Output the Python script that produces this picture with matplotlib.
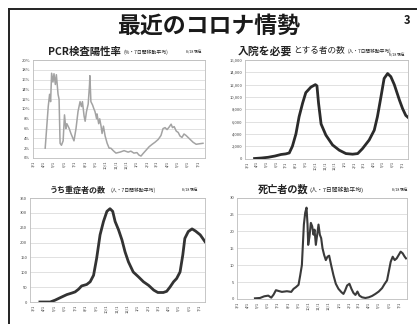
import matplotlib
matplotlib.use("Agg")
import matplotlib.pyplot as plt
from matplotlib.lines import Line2D
from matplotlib.ticker import FuncFormatter
import pandas as pd

plt.rcParams['font.family'] = ['Noto Sans CJK JP', 'DejaVu Sans']

W, H = 417, 324

# 日付軸: 2020/3/1 からの経過日数
start = pd.Timestamp('2020-03-01')
months = pd.date_range(start, periods=17, freq='MS')
tick_days = [(m - start).days for m in months]
tick_labels = [f"{m.month}/{m.day}" for m in months]

# PCR検査陽性率 (%)
pcr_day = [36, 45, 49, 52, 55, 59, 62, 66, 69, 74, 77, 80, 84, 89, 93, 97, 100,
           107, 112, 121, 127, 133, 139, 143, 146, 151, 154, 158, 163, 167, 168,
           171, 176, 180, 183, 188, 189, 194, 197, 201, 204, 208, 213, 219, 225,
           230, 237, 245, 257, 269, 281, 289, 298, 307, 313, 319, 325, 334, 343,
           352, 360, 370, 378, 384, 390, 396, 402, 408, 412, 417, 423, 429, 434,
           440, 446, 452, 458, 464, 473, 482, 491, 502]
pcr_rate = [2.0, 10.5, 13, 11.5, 17.3, 15.5, 17.2, 15, 17, 13, 12, 3, 2.6, 3.5,
            8.8, 6, 7, 6, 5, 3.5, 6, 9.5, 11.5, 10.5, 11.5, 8.5, 7.5, 9.5, 11,
            15, 16.8, 11.5, 10.8, 10, 9.5, 8, 9, 7, 8, 6.5, 5, 6.5, 4.5, 3, 2,
            2, 1.5, 1.0, 1.2, 1.5, 1.2, 1.4, 1.0, 1.1, 0.6, 0.4, 0.9, 1.6, 2.3,
            2.8, 3.2, 3.8, 4.6, 6.0, 6.2, 5.8, 6.3, 6.9, 6.2, 6.4, 5.5, 5.2,
            4.5, 4.2, 4.9, 4.6, 4.2, 3.8, 3.2, 2.8, 2.9, 3.0]

# 入院を必要とする者の数
hosp_day = [24, 46, 67, 88, 107, 122, 133, 143, 154, 164, 175, 185, 201, 215,
            220, 225, 233, 248, 269, 290, 311, 332, 348, 363, 384, 400, 410,
            421, 431, 442, 452, 463, 479, 489, 499, 510]
hosp_num = [0, 80, 200, 400, 650, 750, 900, 2000, 4000, 6800, 9000, 10700,
            11600, 12000, 11800, 9000, 5600, 3800, 2200, 1350, 800, 700, 800,
            1600, 3000, 4600, 6800, 10000, 13000, 13800, 13300, 12000, 9500,
            8100, 7000, 6500]

# うち重症者の数
severe_day = [20, 50, 64, 84, 99, 113, 123, 133, 142, 157, 167, 177, 186, 196,
              206, 216, 225, 233, 240, 250, 260, 269, 279, 293, 308, 323, 338,
              353, 365, 381, 391, 401, 411, 420, 430, 438, 444, 454, 465, 475,
              489, 503]
severe_num = [0, 0, 6, 17, 25, 30, 34, 43, 54, 59, 68, 90, 147, 226, 271, 305,
              314, 305, 271, 243, 209, 169, 135, 101, 85, 68, 56, 40, 32, 32,
              36, 51, 68, 79, 101, 158, 214, 237, 246, 239, 226, 203]

# 死亡者の数
death_day = [54, 69, 82, 94, 103, 110, 117, 124, 135, 150, 163, 170, 177, 185,
             190, 195, 198, 201, 205, 209, 212, 214, 218, 222, 226, 230, 233,
             237, 241, 245, 249, 253, 257, 262, 267, 272, 277, 283, 290, 297,
             305, 314, 320, 325, 331, 338, 344, 350, 356, 362, 368, 376, 386,
             396, 406, 416, 426, 436, 444, 451, 456, 462, 468, 474, 480, 486,
             492, 498, 504, 508]
death_num = [0.2, 0.3, 0.8, 1.0, 0.4, 1.3, 2.6, 2.4, 2.1, 2.3, 2.1, 3.0, 3.5,
             4.2, 7, 10, 16, 22, 25.5, 27, 22, 16, 18.5, 22.5, 21.5, 19, 20.5,
             16, 19, 22, 19, 18, 15, 13, 11.5, 12.5, 12.8, 10, 7, 4.5, 3, 2,
             1.5, 2.5, 4, 4.5, 3, 1.8, 1.2, 2.2, 1, 0.5, 0.3, 0.5, 0.9, 1.5,
             2.2, 3.2, 4.5, 5.5, 8, 11, 12.5, 11.5, 12, 13, 14, 13.5, 12.5, 12]


def fx(x):
    return x / W


def fy(y):
    return 1 - y / H


def panel(left, top, right, bottom, xlim, ylim, yticks, fmt):
    ax = fig.add_axes([fx(left), fy(bottom), (right - left) / W, (bottom - top) / H])
    ax.set_xlim(*xlim)
    ax.set_ylim(*ylim)
    ax.set_yticks(yticks)
    ax.yaxis.set_major_formatter(FuncFormatter(fmt))
    ax.set_xticks(tick_days)
    ax.set_xticklabels(tick_labels, rotation=90)
    ax.tick_params(length=0, labelsize=3, pad=2, colors='#444444')
    ax.grid(axis='y', color='#d4d4d4', lw=0.5)
    ax.set_axisbelow(True)
    for s in ax.spines.values():
        s.set_color('#bdbdbd')
        s.set_linewidth(0.6)
    return ax


fig = plt.figure(figsize=(W / 100, H / 100), dpi=100)
fig.patch.set_facecolor('white')

# 枠線
fig.add_artist(Line2D([fx(8.5), fx(8.5)], [0, fy(8.5)], color='#222222', lw=1.4))
fig.add_artist(Line2D([fx(8.5), 1], [fy(8.5), fy(8.5)], color='#222222', lw=1.4))

fig.text(fx(209), fy(26), '最近のコロナ情勢', ha='center', va='center',
         fontsize=16.5, fontweight='bold', color='#1a1a1a')
fig.text(fx(407), fy(20), '3', ha='center', va='center', fontsize=8,
         fontweight='bold', color='#1a1a1a')

ax1 = panel(33, 60, 205, 158, (0, 508), (0, 20), range(0, 21, 2),
            lambda v, p: f"{int(v)}%")
ax1.plot(pcr_day, pcr_rate, color='#a3a3a3', lw=1.1)

ax2 = panel(245, 60, 408, 158.5, (-6, 506), (0, 16000), range(0, 16001, 2000),
            lambda v, p: f"{int(v):,}")
ax2.plot(hosp_day, hosp_num, color='#2b2b2b', lw=2.0, solid_joinstyle='round')

ax3 = panel(30, 198, 205, 302, (-9, 503), (0, 350), range(0, 351, 50),
            lambda v, p: f"{int(v)}")
ax3.plot(severe_day, severe_num, color='#333333', lw=2.0, solid_joinstyle='round')

ax4 = panel(237, 197.5, 407, 299, (0, 511), (0, 30), range(0, 31, 5),
            lambda v, p: f"{int(v)}")
ax4.plot(death_day, death_num, color='#3a3a3a', lw=1.5, solid_joinstyle='round')

# 各グラフの見出し
def heading(parts, y):
    for x, txt, size, bold in parts:
        fig.text(fx(x), fy(y), txt, ha='left', va='center', fontsize=size,
                 fontweight='bold' if bold else 'normal', color='#222222')


heading([(48, 'PCR検査陽性率', 7.5, True), (123, '(%・7日間移動平均)', 3.5, False),
         (186, '8/18 現在', 2.6, False)], 52)
heading([(238, '入院を必要', 7.8, True), (293, 'とする者の数', 6.2, False),
         (348, '(人・7日間移動平均)', 3.4, False)], 51)
heading([(389, '8/18 現在', 2.6, False)], 55)
heading([(50, 'うち重症者の数', 5.8, True), (110, '(人・7日間移動平均)', 3.5, False),
         (182, '8/18 現在', 2.6, False)], 190)
heading([(258, '死亡者の数', 7.3, True), (310, '(人・7日間移動平均)', 4.2, False),
         (392, '8/18 現在', 2.6, False)], 190)

fig.savefig('out.png', dpi=100, facecolor='white')
